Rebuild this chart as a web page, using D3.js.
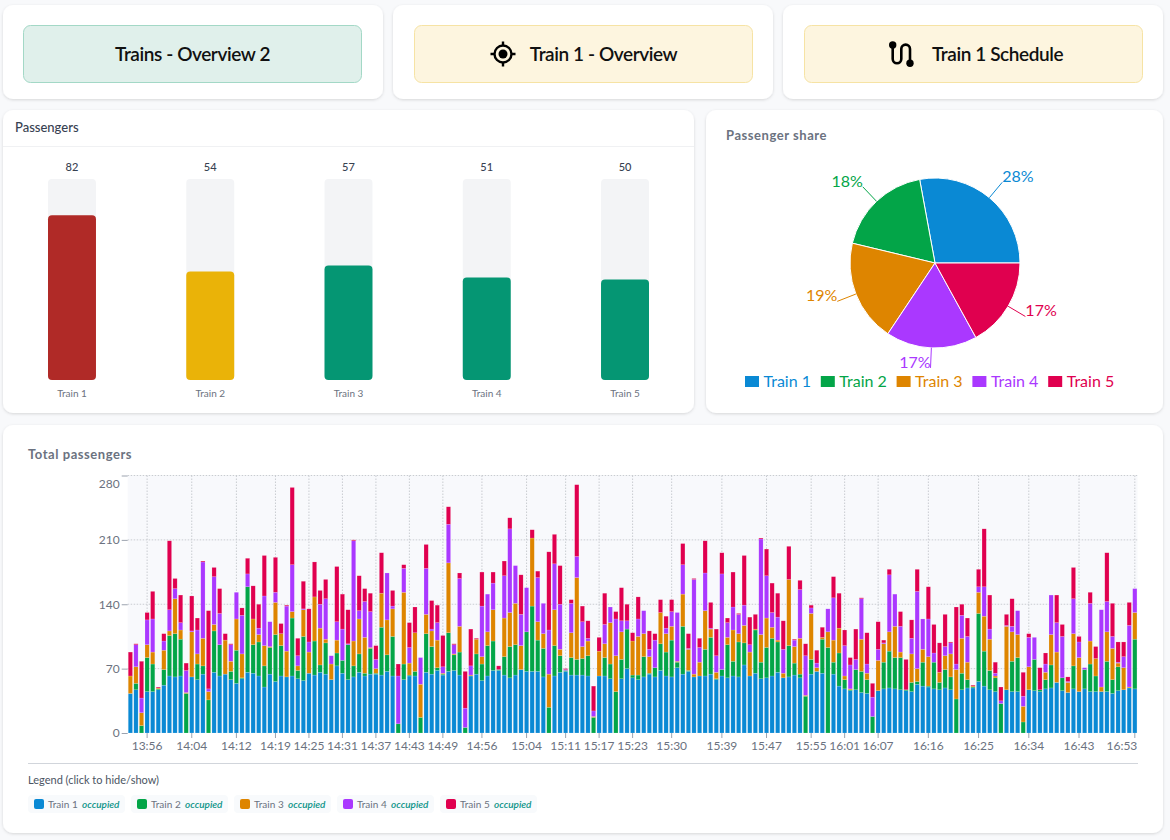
<!DOCTYPE html>
<html>
<head>
<meta charset="utf-8">
<script src="https://cdn.jsdelivr.net/npm/d3@7"></script>
<style>
  body { margin: 0; background: #f8f9fb; }
  svg { display: block; font-family: Lato, sans-serif; }
</style>
</head>
<body>
<script>
var trainNames = ["Train 1", "Train 2", "Train 3", "Train 4", "Train 5"];
var trainColors = ["#0a89d4", "#03a548", "#de8500", "#aa38ff", "#e0004f"];

// gauge panel
var occupancy = [82, 54, 57, 51, 50];
var occupancyColors = ["#b02a27", "#eab308", "#059673", "#059673", "#059673"];

// one value per minute, 13:53 to 16:53
var train1 = [43,47,0,45,45,47,52,62,61,62,
  0,61,58,64,0,66,62,64,58,54,
  59,66,65,62,50,64,56,62,61,62,
  59,57,65,63,66,64,58,73,65,58,
  61,66,62,64,64,63,67,62,0,58,
  62,62,0,66,64,68,63,67,68,63,
  0,62,64,57,62,68,68,63,60,63,
  69,67,67,67,61,0,62,66,67,63,
  63,63,62,0,62,62,59,0,59,70,
  60,58,61,64,61,68,62,61,71,64,
  67,61,62,62,64,58,62,60,62,61,
  74,62,65,59,60,62,66,60,61,63,
  60,0,64,67,65,0,64,51,48,46,
  47,44,43,0,46,48,49,48,47,46,
  45,53,51,50,48,47,49,47,0,47,
  49,49,56,51,47,45,0,47,45,45,
  0,47,46,45,48,49,55,46,44,48,
  45,48,45,45,45,45,43,46,47,49,
  48];
var train2 = [0,7,8,37,30,1,17,44,47,40,
  43,0,17,9,36,45,34,0,9,36,
  1,93,31,37,23,29,51,33,0,63,
  9,48,0,37,8,34,0,14,14,38,
  12,20,3,28,1,52,18,43,10,17,
  1,5,17,42,30,3,1,42,17,25,
  6,0,22,18,33,32,1,20,34,33,
  0,43,71,34,31,28,33,18,1,19,
  17,18,22,17,0,20,16,45,21,43,
  3,5,22,1,10,29,26,40,6,52,
  1,0,0,29,40,1,7,36,16,38,
  24,0,47,18,33,41,33,0,34,13,
  4,40,16,0,37,93,13,36,10,1,
  22,23,15,18,0,29,40,34,35,1,
  10,3,26,1,29,8,20,14,37,18,
  9,1,74,38,21,15,32,0,33,37,
  12,0,34,2,10,25,0,14,0,25,
  0,21,30,17,0,33,15,26,0,0,
  54];
var train3 = [19,18,14,14,13,1,21,5,38,10,
  1,49,11,30,9,7,0,37,11,34,
  26,0,28,8,22,1,35,13,28,7,
  5,29,23,48,40,4,17,14,0,0,
  27,38,39,1,5,37,38,30,0,78,
  13,42,36,21,17,30,1,76,1,28,
  0,1,16,8,15,34,0,42,37,45,
  26,0,74,20,16,36,39,7,0,27,
  89,13,16,1,27,15,45,39,30,0,
  37,42,25,18,0,34,20,15,1,35,
  23,3,15,42,9,7,0,8,34,9,
  19,26,1,30,32,12,2,5,72,18,
  39,1,50,4,2,17,24,27,4,1,
  0,35,7,0,33,20,21,34,6,0,
  31,14,14,32,0,11,15,25,32,38,
  19,1,23,38,34,2,0,69,32,25,
  17,25,0,0,8,33,33,0,11,35,
  37,0,25,19,5,32,34,4,24,1,
  29];
var train4 = [0,24,16,27,36,0,10,23,11,8,
  24,1,26,83,3,52,34,0,18,29,
  42,14,0,7,54,27,11,0,49,51,
  11,1,11,0,26,44,9,20,34,1,
  109,9,39,39,10,0,51,3,52,26,
  17,0,29,50,2,19,7,42,10,52,
  21,10,0,55,41,29,0,46,91,41,
  34,48,0,48,33,48,50,49,1,32,
  23,27,3,6,0,21,17,40,12,9,
  0,19,25,8,30,0,6,16,53,32,
  1,103,16,41,1,18,104,16,25,21,
  22,8,0,104,46,16,25,26,0,7,
  53,43,6,5,0,25,46,0,33,26,
  11,44,10,21,12,1,62,35,28,0,
  17,84,33,41,10,0,10,12,6,25,
  28,0,6,32,11,3,3,1,6,26,
  11,32,24,0,9,43,32,45,1,38,
  17,2,41,0,84,33,13,1,12,67,
  26];
var train5 = [26,1,40,8,30,1,8,75,11,30,
  8,38,13,1,85,10,27,7,1,0,
  8,17,36,26,44,0,38,11,1,84,
  19,30,36,38,15,21,0,60,38,37,
  1,38,14,20,15,44,0,17,13,4,
  27,28,0,26,31,19,34,19,1,6,
  40,40,1,37,0,12,4,16,12,0,
  43,0,9,7,0,85,32,42,1,4,
  78,17,19,27,15,34,0,8,36,18,
  9,24,0,20,7,14,13,13,0,23,
  16,1,10,35,28,29,23,5,38,1,
  54,30,16,1,29,32,26,31,36,1,
  10,13,3,14,11,0,23,38,17,8,
  33,1,34,15,30,3,6,0,16,33,
  20,24,0,35,31,32,35,1,62,12,
  20,1,19,63,37,12,15,12,30,0,
  26,4,0,24,12,0,30,13,5,34,
  6,0,12,13,0,53,36,22,16,25,
  0];

var yTicks = [0, 70, 140, 210, 280];
var xTickLabels = ["13:56","14:04","14:12","14:19","14:25","14:31","14:37","14:43","14:49","14:56","15:04","15:11","15:17","15:23","15:30","15:39","15:47","15:55","16:01","16:07","16:16","16:25","16:34","16:43","16:53"];

var svg = d3.select("body").append("svg")
  .attr("width", 1170)
  .attr("height", 840);

// card backgrounds
var defs = svg.append("defs");
var shadow = defs.append("filter").attr("id", "cardShadow")
  .attr("x", "-5%").attr("y", "-5%").attr("width", "110%").attr("height", "110%");
shadow.append("feDropShadow")
  .attr("dx", 0).attr("dy", 1).attr("stdDeviation", 1.5)
  .attr("flood-color", "#000").attr("flood-opacity", 0.14);

var cards = [
  [3, 5, 380, 94], [393, 5, 380, 94], [783, 5, 380, 94],
  [3, 110, 691, 303], [706, 110, 457, 303],
  [3, 425, 1160, 408]
];
svg.selectAll(".card").data(cards).enter().append("rect")
  .attr("class", "card")
  .attr("x", d => d[0]).attr("y", d => d[1])
  .attr("width", d => d[2]).attr("height", d => d[3])
  .attr("rx", 10)
  .attr("fill", "#fff")
  .attr("filter", "url(#cardShadow)");

// top buttons
var buttons = [
  {x: 23.5, label: "Trains - Overview 2", textX: 192.5, fill: "#e0f0eb", line: "#a3d8c6"},
  {x: 414.5, label: "Train 1 - Overview", textX: 603.5, fill: "#fdf5df", line: "#f6e3a4"},
  {x: 804.5, label: "Train 1 Schedule", textX: 997.5, fill: "#fdf5df", line: "#f6e3a4"}
];
buttons.forEach(function(b) {
  svg.append("rect")
    .attr("x", b.x).attr("y", 25.5)
    .attr("width", 338).attr("height", 57)
    .attr("rx", 7)
    .attr("fill", b.fill).attr("stroke", b.line);
  svg.append("text")
    .attr("x", b.textX).attr("y", 61)
    .attr("text-anchor", "middle")
    .style("font-size", "19px")
    .style("font-weight", 600)
    .style("letter-spacing", "-0.42px")
    .attr("fill", "#111")
    .text(b.label);
});

// target icon
var target = svg.append("g").attr("transform", "translate(503,54)");
target.append("circle").attr("r", 8.5).attr("fill", "none").attr("stroke", "#000").attr("stroke-width", 2.4);
target.append("circle").attr("r", 4.5).attr("fill", "#000");
target.append("path")
  .attr("d", "M0,-12.5V-8M0,8V12.5M-12.5,0H-8M8,0H12.5")
  .attr("stroke", "#000").attr("stroke-width", 2.4);

// route icon
var route = svg.append("g").attr("transform", "translate(901,54)");
route.append("path")
  .attr("d", "M-8.3,-9V5A4.3,4.3 0 0 0 0.3,5V-5A4.3,4.3 0 0 1 9,-5V9")
  .attr("fill", "none").attr("stroke", "#000").attr("stroke-width", 2.6);
route.append("circle").attr("cx", -8.3).attr("cy", -9).attr("r", 3.7).attr("fill", "#000");
route.append("circle").attr("cx", 9).attr("cy", 9.3).attr("r", 3.7).attr("fill", "#000");

// passengers gauges
svg.append("text")
  .attr("x", 15).attr("y", 132)
  .style("font-size", "13px")
  .style("font-weight", 500)
  .attr("fill", "#374151")
  .text("Passengers");
svg.append("line")
  .attr("x1", 3).attr("x2", 694).attr("y1", 146.5).attr("y2", 146.5)
  .attr("stroke", "#f0f1f3");

var gaugeX = d3.scaleBand().domain(trainNames).range([48, 649]).paddingInner(0.653).paddingOuter(0);
var gaugeY = d3.scaleLinear().domain([0, 100]).range([380, 179]);

svg.selectAll(".track").data(trainNames).enter().append("rect")
  .attr("class", "track")
  .attr("x", d => gaugeX(d))
  .attr("y", gaugeY(100))
  .attr("width", gaugeX.bandwidth())
  .attr("height", gaugeY(0) - gaugeY(100))
  .attr("rx", 4)
  .attr("fill", "#f3f4f6");

svg.selectAll(".gauge").data(occupancy).enter().append("rect")
  .attr("class", "gauge")
  .attr("x", (d, i) => gaugeX(trainNames[i]))
  .attr("y", d => gaugeY(d))
  .attr("width", gaugeX.bandwidth())
  .attr("height", d => gaugeY(0) - gaugeY(d))
  .attr("rx", 4)
  .attr("fill", (d, i) => occupancyColors[i]);

svg.selectAll(".gaugeValue").data(occupancy).enter().append("text")
  .attr("class", "gaugeValue")
  .attr("x", (d, i) => gaugeX(trainNames[i]) + gaugeX.bandwidth() / 2)
  .attr("y", 171)
  .attr("text-anchor", "middle")
  .style("font-size", "11px")
  .style("font-weight", 500)
  .attr("fill", "#374151")
  .text(d => d);

svg.selectAll(".gaugeName").data(trainNames).enter().append("text")
  .attr("class", "gaugeName")
  .attr("x", d => gaugeX(d) + gaugeX.bandwidth() / 2)
  .attr("y", 397)
  .attr("text-anchor", "middle")
  .style("font-size", "10px")
  .attr("fill", "#6b7280")
  .text(d => d);

// pie
svg.append("text")
  .attr("x", 726).attr("y", 140)
  .style("font-size", "13px")
  .style("font-weight", 700)
  .style("letter-spacing", "0.55px")
  .attr("fill", "#6b7280")
  .text("Passenger share");

var pieGroup = svg.append("g").attr("transform", "translate(935,263)");
var pieTotal = d3.sum(occupancy);
var pie = d3.pie().sort(null).startAngle(Math.PI / 2).endAngle(Math.PI / 2 - 2 * Math.PI);
var arc = d3.arc().innerRadius(0).outerRadius(85);
var pieSlices = pie(occupancy);

pieGroup.selectAll(".slice").data(pieSlices).enter().append("path")
  .attr("class", "slice")
  .attr("d", arc)
  .attr("fill", (d, i) => trainColors[i])
  .attr("stroke", "#fff")
  .attr("stroke-width", 1);

pieSlices.forEach(function(d, i) {
  var mid = (d.startAngle + d.endAngle) / 2;
  var sx = Math.sin(mid), cy = -Math.cos(mid);
  var right = sx > 0;
  pieGroup.append("line")
    .attr("x1", sx * 85).attr("y1", cy * 85)
    .attr("x2", sx * 105).attr("y2", cy * 105)
    .attr("stroke", trainColors[i]);
  pieGroup.append("text")
    .attr("x", sx * 105)
    .attr("y", cy * 105)
    .attr("text-anchor", right ? "start" : "end")
    .style("font-size", "16px")
    .attr("fill", trainColors[i])
    .text(Math.round(d.value / pieTotal * 100) + "%");
});

var pieLegendX = d3.scaleBand().domain(trainNames).range([745, 1124]);
var pieLegend = svg.selectAll(".pieLegend").data(trainNames).enter().append("g")
  .attr("class", "pieLegend")
  .attr("transform", d => "translate(" + pieLegendX(d) + ",381.5)");
pieLegend.append("rect")
  .attr("y", -5.5).attr("width", 14).attr("height", 11)
  .attr("fill", (d, i) => trainColors[i]);
pieLegend.append("text")
  .attr("x", 18.5).attr("y", 5.5)
  .style("font-size", "16px")
  .attr("fill", (d, i) => trainColors[i])
  .text(d => d);

// total passengers
svg.append("text")
  .attr("x", 28).attr("y", 459)
  .style("font-size", "13px")
  .style("font-weight", 700)
  .style("letter-spacing", "0.55px")
  .attr("fill", "#6b7280")
  .text("Total passengers");

var plot = {left: 127.7, right: 1137.5, top: 475.5, bottom: 733};

var minutes = d3.range(train1.length).map(function(i) {
  var m = 13 * 60 + 53 + i;
  return Math.floor(m / 60) + ":" + d3.format("02")(m % 60);
});
var stackRows = minutes.map(function(m, i) {
  return {minute: m, "Train 1": train1[i], "Train 2": train2[i], "Train 3": train3[i], "Train 4": train4[i], "Train 5": train5[i]};
});

var xScale = d3.scaleBand().domain(minutes).range([plot.left, plot.right]).paddingInner(0.24).paddingOuter(0.1);
var yScale = d3.scaleLinear().domain([0, 280]).range([plot.bottom, plot.top]);

svg.append("rect")
  .attr("x", plot.left).attr("y", plot.top)
  .attr("width", plot.right - plot.left).attr("height", plot.bottom - plot.top)
  .attr("fill", "#f8f9fc");

var xCenter = d => xScale(d) + xScale.bandwidth() / 2;

svg.selectAll(".gridY").data(yTicks.slice(1)).enter().append("line")
  .attr("class", "gridY")
  .attr("x1", plot.left).attr("x2", plot.right)
  .attr("y1", d => yScale(d)).attr("y2", d => yScale(d))
  .attr("stroke", "#c9ccd1")
  .attr("stroke-dasharray", "1.5,1.5");

svg.selectAll(".gridX").data(xTickLabels).enter().append("line")
  .attr("class", "gridX")
  .attr("x1", xCenter).attr("x2", xCenter)
  .attr("y1", plot.top).attr("y2", plot.bottom)
  .attr("stroke", "#c9ccd1")
  .attr("stroke-dasharray", "1.5,1.5");

var stack = d3.stack().keys(trainNames);
var layers = svg.selectAll(".layer").data(stack(stackRows)).enter().append("g")
  .attr("class", "layer")
  .attr("fill", (d, i) => trainColors[i]);

layers.selectAll("rect").data(d => d.filter(p => p[1] > p[0])).enter().append("rect")
  .attr("x", d => xScale(d.data.minute))
  .attr("y", d => yScale(d[1]))
  .attr("width", xScale.bandwidth())
  .attr("height", d => yScale(d[0]) - yScale(d[1]))
  .attr("stroke", "#fff")
  .attr("stroke-opacity", 0.3)
  .attr("stroke-width", 0.5);

var xAxis = svg.append("g")
  .attr("transform", "translate(0," + plot.bottom + ")")
  .call(d3.axisBottom(xScale).tickValues(xTickLabels).tickSize(5).tickPadding(3));
xAxis.select(".domain").remove();
xAxis.selectAll("line").attr("stroke", "#9ca3af");
xAxis.selectAll("text").style("font-size", "12px").style("font-family", "Lato").attr("fill", "#6b7280");
xAxis.selectAll("text").filter(d => d === "16:53").attr("text-anchor", "end").attr("x", 2.5);

var yAxis = svg.append("g")
  .attr("transform", "translate(" + plot.left + ",0)")
  .call(d3.axisLeft(yScale).tickValues(yTicks).tickSize(6).tickPadding(2));
yAxis.select(".domain").remove();
yAxis.selectAll("line").attr("stroke", "#9ca3af");
yAxis.selectAll("text").style("font-size", "12px").style("font-family", "Lato").attr("fill", "#6b7280");
yAxis.selectAll("text").filter(d => d === 280).attr("dy", "1em");

// legend
svg.append("line")
  .attr("x1", 28).attr("x2", 1138).attr("y1", 763.5).attr("y2", 763.5)
  .attr("stroke", "#d1d5db");
svg.append("text")
  .attr("x", 28).attr("y", 784)
  .style("font-size", "11px")
  .attr("fill", "#4b5563")
  .text("Legend (click to hide/show)");

var legendX = d3.scalePoint().domain(trainNames).range([28, 440]);
var legendItems = svg.selectAll(".legendItem").data(trainNames).enter().append("g")
  .attr("class", "legendItem")
  .attr("transform", d => "translate(" + legendX(d) + ",795)");
legendItems.append("rect")
  .attr("width", 97).attr("height", 18).attr("rx", 4)
  .attr("fill", "#f8fafc");
legendItems.append("rect")
  .attr("x", 6).attr("y", 4).attr("width", 10).attr("height", 10).attr("rx", 2)
  .attr("fill", (d, i) => trainColors[i]);
legendItems.append("text")
  .attr("x", 20).attr("y", 12.5)
  .style("font-size", "10px")
  .attr("fill", "#6b7280")
  .text(d => d);
legendItems.append("text")
  .attr("x", 54).attr("y", 12.5)
  .style("font-size", "10px")
  .style("font-style", "italic")
  .style("font-weight", 600)
  .attr("fill", "#0d9488")
  .text("occupied");
</script>
</body>
</html>
